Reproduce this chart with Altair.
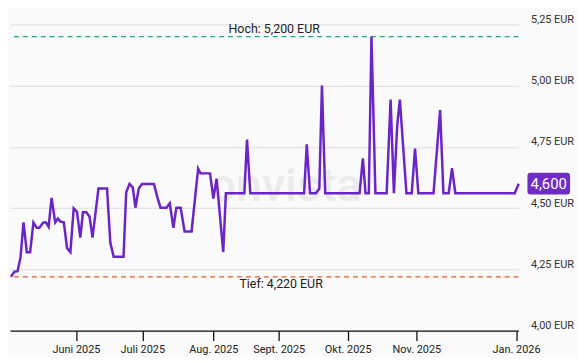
import altair as alt
import pandas as pd

# trading-day index (x) and price in EUR (y)
day = [0, 1.0, 2.0, 2.9, 3.8, 4.8, 5.8, 6.8, 7.8, 8.6, 9.8, 10.6, 11.4, 12.3, 13.4, 14.2,
       15.0, 16.0, 17.0, 18.0, 19.0, 20.0, 21.0, 21.8, 22.8, 23.8, 24.7, 26.5, 29.1, 30.1,
       31.1, 34.1, 34.9, 35.9, 36.9, 37.7, 38.7, 39.7, 43.3, 44.4, 45.3, 47.1, 48.1, 49.2,
       50.1, 51.4, 52.6, 54.7, 56.7, 57.4, 60.3, 61.3, 62.3, 64.3, 65.1, 70.7, 71.5, 72.5,
       88.8, 89.6, 90.6, 92.4, 93.4, 94.2, 95.2, 105.6, 106.6, 107.4, 108.4, 109.2, 110.4,
       113.8, 115.0, 116.0, 117.0, 117.8, 119.8, 121.4, 122.4, 123.4, 128.0, 130.0, 131.0,
       132.6, 133.6, 134.6, 152.6, 153.8]
price = [4.22, 4.24, 4.243, 4.30, 4.442, 4.32, 4.32, 4.442, 4.42, 4.42, 4.442, 4.442, 4.424,
         4.542, 4.442, 4.458, 4.445, 4.442, 4.337, 4.321, 4.499, 4.485, 4.38, 4.483, 4.483,
         4.466, 4.38, 4.58, 4.58, 4.359, 4.302, 4.302, 4.564, 4.599, 4.585, 4.502, 4.58, 4.599,
         4.599, 4.542, 4.502, 4.502, 4.52, 4.42, 4.502, 4.502, 4.405, 4.405, 4.661, 4.642,
         4.642, 4.539, 4.62, 4.321, 4.561, 4.561, 4.78, 4.561, 4.561, 4.761, 4.561, 4.561,
         4.58, 5.00, 4.561, 4.561, 4.703, 4.561, 4.561, 5.20, 4.561, 4.561, 4.943, 4.561,
         4.837, 4.943, 4.561, 4.561, 4.743, 4.561, 4.561, 4.90, 4.561, 4.561, 4.663, 4.561,
         4.561, 4.60]

tick_pos = [19.7, 39.8, 61.3, 81.1, 102.0, 122.8, 153.0]
tick_lbl = ["Juni 2025", "Juli 2025", "Aug. 2025", "Sept. 2025", "Okt. 2025", "Nov. 2025", "Jan. 2026"]
y_ticks = [4.0, 4.25, 4.5, 4.75, 5.0, 5.25]

high_val = 5.20
low_val = 4.22
last_val = 4.60
high_txt = "Hoch: 5,200 EUR"
low_txt = "Tief: 4,220 EUR"
last_txt = "4,600"

FONT = "Roboto"
PURPLE = "#6b24c8"

df = pd.DataFrame({"t": day, "p": price})
x_scale = alt.Scale(domain=[-0.3, 153.75], nice=False, zero=False)
y_scale = alt.Scale(domain=[4.0, 5.25], nice=False, zero=False)

label_expr = "[" + ",".join("'%s'" % s for s in tick_lbl) + "][indexof([" + \
    ",".join(str(v) for v in tick_pos) + "], datum.value)]"

watermark = alt.Chart(pd.DataFrame({"w": ["onvista"]})).mark_text(
    fontSize=47, color="#ebebeb", font=FONT, fontWeight=500
).encode(x=alt.value(278), y=alt.value(164), text="w:N")

line = alt.Chart(df).mark_line(color=PURPLE, strokeWidth=2.5, strokeJoin="miter").encode(
    x=alt.X("t:Q", scale=x_scale, axis=alt.Axis(
        values=tick_pos, labelExpr=label_expr, title=None, grid=False,
        domainColor="#111111", domainWidth=1.3, tickColor="#111111", tickWidth=1.3,
        tickSize=10, labelPadding=3, labelFontSize=11, labelColor="#222222",
        labelFont=FONT, labelFlush=False)),
    y=alt.Y("p:Q", scale=y_scale, axis=alt.Axis(
        orient="right", values=y_ticks, title=None, grid=True, gridColor="#dddddd",
        gridWidth=1, domain=False, ticks=False, tickSize=0, labelPadding=12,
        labelBaseline="bottom", labelFontSize=11, labelColor="#333333", labelFont=FONT,
        labelExpr="replace(format(datum.value, '.2f'), '.', ',') + ' EUR'"))
)

hl = pd.DataFrame({"v": [high_val], "txt": [high_txt]})
ll = pd.DataFrame({"v": [low_val], "txt": [low_txt]})

high_rule = alt.Chart(hl).mark_rule(color="#1aae7c", strokeDash=[5, 4], strokeWidth=1.2).encode(
    y=alt.Y("v:Q", scale=y_scale))
low_rule = alt.Chart(ll).mark_rule(color="#e8582a", strokeDash=[5, 4], strokeWidth=1.2).encode(
    y=alt.Y("v:Q", scale=y_scale))
high_text = alt.Chart(hl).mark_text(dy=-8, fontSize=12.5, color="#222222", font=FONT).encode(
    x=alt.value(266.5), y=alt.Y("v:Q", scale=y_scale), text="txt:N")
low_text = alt.Chart(ll).mark_text(dy=7, fontSize=12.5, color="#222222", font=FONT).encode(
    x=alt.value(273.5), y=alt.Y("v:Q", scale=y_scale), text="txt:N")

badge_df = pd.DataFrame({"v": [last_val], "txt": [last_txt]})
badge_path = ("M-0.86,-0.51 H0.86 Q1,-0.51 1,-0.37 V0.37 Q1,0.51 0.86,0.51 H-0.86 "
              "Q-1,0.51 -1,0.37 V-0.37 Q-1,-0.51 -0.86,-0.51 Z")
badge = alt.Chart(badge_df).mark_point(
    shape=badge_path, size=1849, filled=True, color="#6f2cc4", opacity=1, strokeWidth=0
).encode(x=alt.value(543.5), y=alt.Y("v:Q", scale=y_scale))
badge_text = alt.Chart(badge_df).mark_text(color="white", fontSize=15, font=FONT).encode(
    x=alt.value(543.5), y=alt.Y("v:Q", scale=y_scale), text="txt:N")

chart = alt.layer(
    watermark, high_rule, low_rule, high_text, low_text, line, badge, badge_text
).properties(
    width=513, height=309,
    autosize=alt.AutoSizeParams(type="none"),
    padding={"left": 2, "top": 15, "right": 60, "bottom": 25},
    background="#fafafa",
).configure_view(stroke=None)

chart.save("out.html", embed_options={"renderer": "svg", "actions": False})
